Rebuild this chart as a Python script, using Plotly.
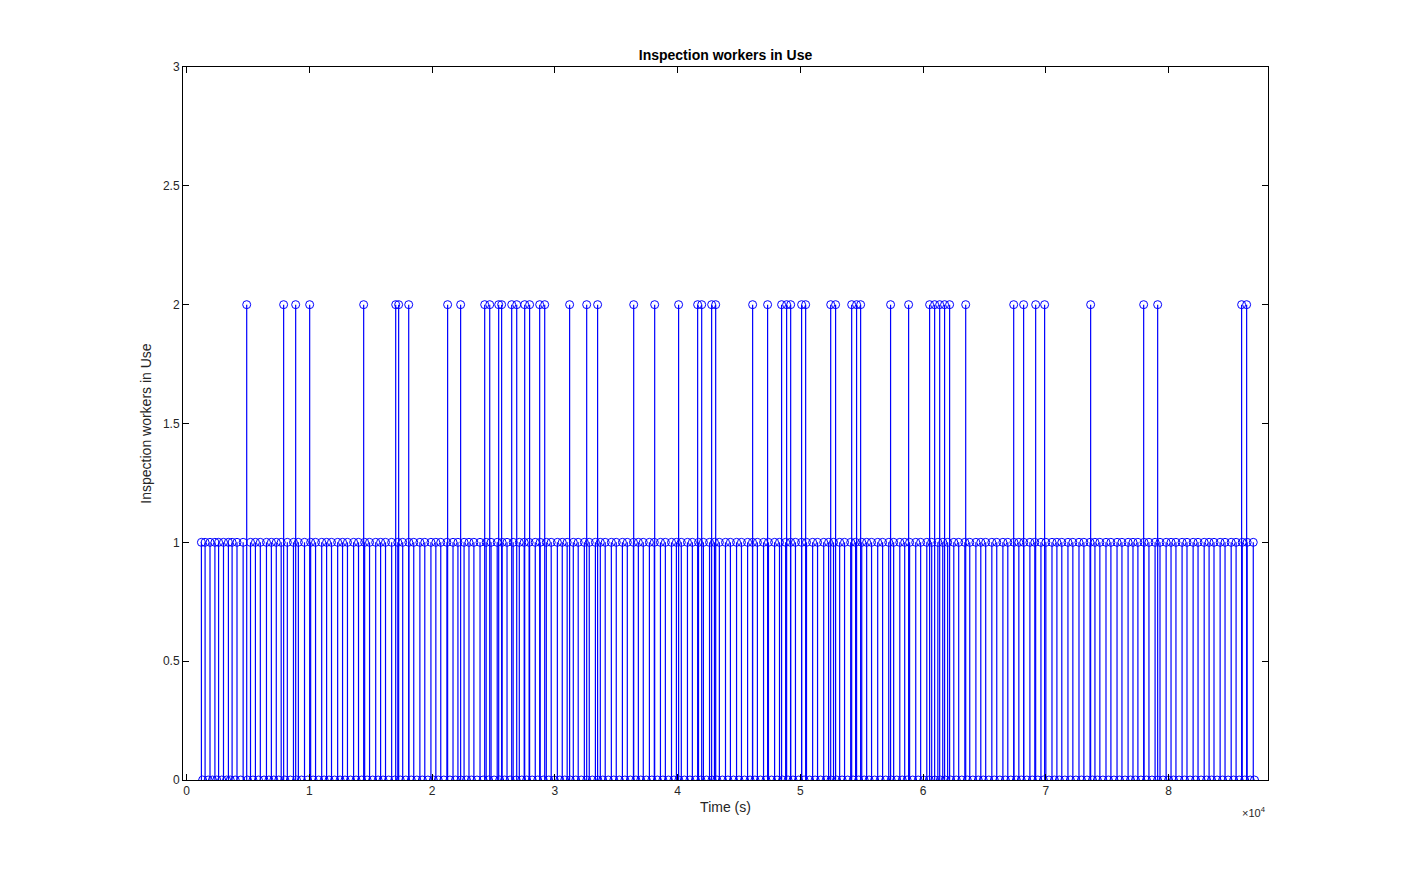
import plotly.graph_objects as go

# event times (s), grouped by level
twos_t = [4890, 7900, 8880, 10020, 14420, 17030, 17270, 18090, 21260, 22320, 24280, 24690,
          25420, 25660, 26480, 26890, 27540, 27940, 28760, 29170, 31200, 32590, 33480, 36420,
          38130, 40080, 41630, 41960, 42770, 43100, 46110, 47330, 48470, 48880, 49210, 50100,
          50430, 52470, 52870, 54180, 54580, 54910, 57350, 58820, 60530, 60940, 61350, 61750,
          62160, 63470, 67380, 68190, 69170, 69900, 73650, 77970, 79110, 85950, 86360]

ones_t = [1200, 1500, 1900, 2300, 2600, 3000, 3400, 3700, 4100, 4600, 5200, 5600, 6000, 6500,
          6900, 7300, 7700, 8200, 8700, 9100, 9600, 10100, 10500, 11000, 11400, 11800, 12300,
          12700, 13100, 13600, 14000, 14500, 14900, 15400, 15800, 16200, 16700, 17200, 17600,
          18100, 18500, 19000, 19400, 19900, 20300, 20700, 21200, 21700, 22100, 22600, 23000,
          23400, 23900, 24400, 24800, 25300, 25700, 26100, 26600, 27100, 27500, 27900, 28400,
          28800, 29300, 29700, 30200, 30600, 31000, 31500, 31900, 32400, 32800, 33300, 33700,
          34100, 34600, 35000, 35500, 35900, 36400, 36800, 37200, 37700, 38100, 38600, 39000,
          39500, 39900, 40300, 40800, 41200, 41700, 42100, 42600, 43000, 43400, 43900, 44300,
          44800, 45200, 45700, 46100, 46500, 47000, 47400, 47900, 48300, 48800, 49200, 49600,
          50100, 50500, 51000, 51400, 51900, 52300, 52700, 53200, 53600, 54100, 54500, 55000,
          55400, 55800, 56300, 56700, 57200, 57600, 58100, 58500, 58900, 59400, 59800, 60300,
          60700, 61200, 61600, 62000, 62500, 62900, 63400, 63800, 64300, 64700, 65100, 65600,
          66000, 66500, 66900, 67400, 67800, 68200, 68700, 69100, 69600, 70000, 70500, 70900,
          71300, 71800, 72200, 72700, 73100, 73600, 74000, 74400, 74900, 75300, 75800, 76200,
          76700, 77100, 77500, 78000, 78400, 78900, 79300, 79800, 80200, 80600, 81100, 81500,
          82000, 82400, 82900, 83300, 83700, 84200, 84600, 85100, 85500, 86000, 86400, 86900]

zeros_t = [1300, 1750, 2100, 2450, 2850, 3250, 3550, 3950, 4400, 4950, 5400, 5850, 6300, 6700,
           7100, 7500, 8000, 8450, 8950, 9350, 9850, 10300, 10750, 11200, 11600, 12050, 12500,
           12900, 13350, 13800, 14250, 14700, 15150, 15600, 16000, 16450, 16950, 17400, 17850,
           18300, 18750, 19200, 19650, 20100, 20500, 20950, 21450, 21900, 22350, 22800, 23200,
           23650, 24150, 24600, 25050, 25500, 25900, 26350, 26850, 27300, 27700, 28150, 28600,
           29050, 29500, 29950, 30400, 30800, 31250, 31700, 32150, 32600, 33050, 33500, 33900,
           34350, 34800, 35250, 35700, 36150, 36600, 37000, 37450, 37900, 38350, 38800, 39250,
           39700, 40100, 40550, 41000, 41450, 41900, 42350, 42800, 43200, 43650, 44100, 44550,
           45000, 45450, 45900, 46300, 46750, 47200, 47650, 48100, 48550, 49000, 49400, 49850,
           50300, 50750, 51200, 51650, 52100, 52500, 52950, 53400, 53850, 54300, 54750, 55200,
           55600, 56050, 56500, 56950, 57400, 57850, 58300, 58700, 59150, 59600, 60050, 60500,
           60950, 61400, 61800, 62250, 62700, 63150, 63600, 64050, 64500, 64900, 65350, 65800,
           66250, 66700, 67150, 67600, 68000, 68450, 68900, 69350, 69800, 70250, 70700, 71100,
           71550, 72000, 72450, 72900, 73350, 73800, 74200, 74650, 75100, 75550, 76000, 76450,
           76900, 77300, 77750, 78200, 78650, 79100, 79550, 80000, 80400, 80850, 81300, 81750,
           82200, 82650, 83100, 83500, 83950, 84400, 84850, 85300, 85750, 86200, 86650, 87000]

x_ticks = [0, 10000, 20000, 30000, 40000, 50000, 60000, 70000, 80000]
x_labels = ["0", "1", "2", "3", "4", "5", "6", "7", "8"]
y_ticks = [0, 0.5, 1, 1.5, 2, 2.5, 3]
y_labels = ["0", "0.5", "1", "1.5", "2", "2.5", "3"]

pts = sorted([(t, 0) for t in zeros_t] + [(t, 1) for t in ones_t] + [(t, 2) for t in twos_t])
xs = [p[0] for p in pts]
ys = [p[1] for p in pts]

stem_x, stem_y = [], []
for t, v in pts:
    stem_x += [t, t, None]
    stem_y += [0, v, None]

fig = go.Figure()
fig.add_trace(go.Scatter(x=stem_x, y=stem_y, mode='lines',
                         line=dict(color='#0000ff', width=1.2), hoverinfo='skip'))
fig.add_trace(go.Scatter(x=xs, y=ys, mode='markers',
                         marker=dict(symbol='circle-open', size=8, color='#0000ff',
                                     line=dict(width=1))))

axis_common = dict(showline=True, linecolor='black', linewidth=1, mirror='ticks',
                   ticks='inside', ticklen=6, tickcolor='black', showgrid=False,
                   zeroline=False, tickfont=dict(size=12, color='#262626'))

fig.update_layout(
    width=1401, height=878,
    paper_bgcolor='white', plot_bgcolor='white',
    margin=dict(l=175, r=141, t=59, b=106),
    showlegend=False,
    font=dict(family='Arial, Liberation Sans', color='#262626'),
    title=dict(text='<b>Inspection workers in Use</b>', xref='paper', x=0.5, xanchor='center',
               y=1 - 47 / 878, yanchor='middle', font=dict(size=14, color='black')),
    xaxis=dict(range=[-300, 88100], tickvals=x_ticks, ticktext=x_labels,
               title=dict(text='Time (s)', font=dict(size=14), standoff=4), **axis_common),
    yaxis=dict(range=[0, 3], tickvals=y_ticks, ticktext=y_labels,
               title=dict(text='Inspection workers in Use', font=dict(size=14), standoff=8),
               **axis_common),
)

fig.add_annotation(text='×10<sup>4</sup>', xref='paper', yref='paper', x=1, y=-0.045,
                   xanchor='right', yanchor='middle', showarrow=False,
                   font=dict(size=11, color='#262626'))

fig.write_html("out.html")
